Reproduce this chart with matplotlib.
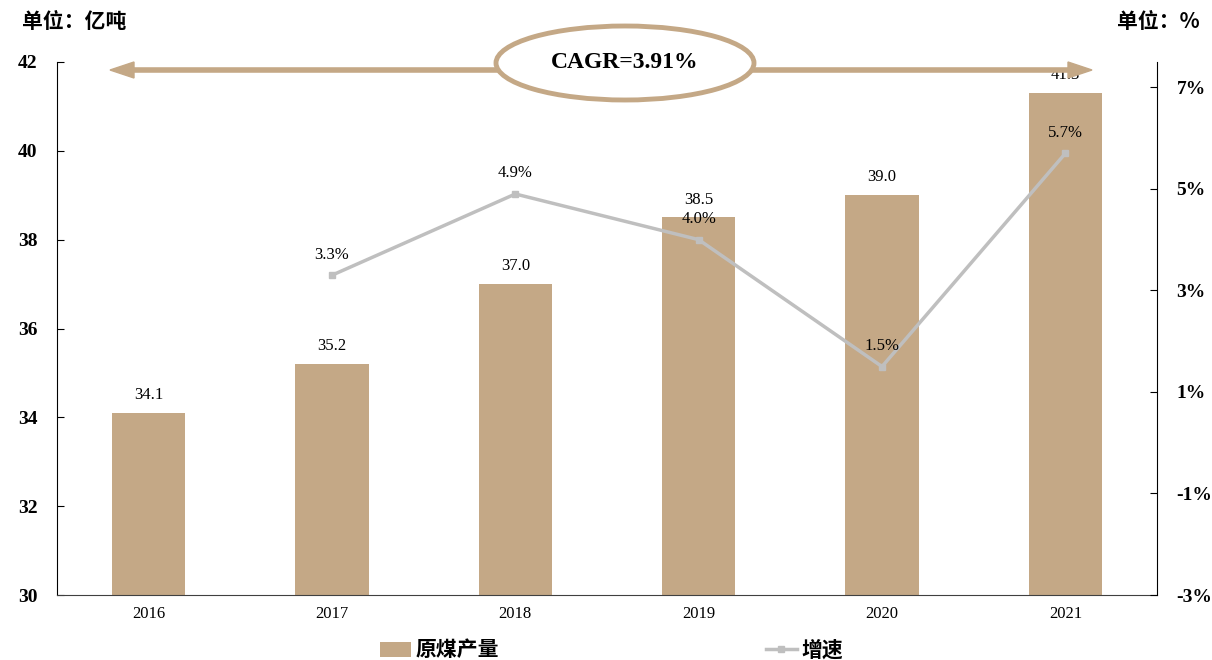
import numpy as np
import matplotlib.pyplot as plt
from matplotlib.patches import Ellipse, Patch, Polygon
from matplotlib.lines import Line2D

years = ['2016', '2017', '2018', '2019', '2020', '2021']
output = [34.1, 35.2, 37.0, 38.5, 39.0, 41.3]  # 原煤产量, 亿吨
growth_years = ['2017', '2018', '2019', '2020', '2021']
growth = [3.3, 4.9, 4.0, 1.5, 5.7]  # 增速, %
left_ticks = [30, 32, 34, 36, 38, 40, 42]
right_ticks = [-3, -1, 1, 3, 5, 7]

tan = '#C4A886'
grey = '#BFBFBF'
serif = 'Liberation Serif'
cjk = ['Noto Sans CJK SC', 'DejaVu Sans']

W, H = 1212, 660
fig = plt.figure(figsize=(W / 100, H / 100), dpi=100)
ax1 = fig.add_axes([57 / W, 65 / H, 1100 / W, 533 / H])
ax2 = ax1.twinx()

x = np.arange(len(years))
ax1.bar(x, output, width=0.4, color=tan, zorder=2)
for xi, v in zip(x, output):
    ax1.text(xi, v + 0.22, f'{v:.1f}', ha='center', va='bottom',
             fontsize=12, family=serif, zorder=3)

gx = [years.index(y) for y in growth_years]
ax2.plot(gx, growth, color=grey, lw=2.5, marker='s', ms=5, zorder=3)
for xi, v in zip(gx, growth):
    ax2.text(xi, v + 0.25, f'{v:.1f}%', ha='center', va='bottom',
             fontsize=12, family=serif, zorder=4)

ax1.set_xlim(-0.5, 5.5)
ax1.set_ylim(30, 42)
ax2.set_ylim(-3, 7.5)
ax1.set_xticks(x)
ax1.set_xticklabels(years, family=serif, fontsize=12)
ax1.set_yticks(left_ticks)
ax1.set_yticklabels([str(t) for t in left_ticks], family=serif,
                    fontsize=14, fontweight='bold')
ax2.set_yticks(right_ticks)
ax2.set_yticklabels([f'{t}%' for t in right_ticks], family=serif,
                    fontsize=14, fontweight='bold')

ax1.tick_params(axis='x', length=0, pad=8)
ax1.tick_params(axis='y', direction='in', length=5, pad=14)
ax2.tick_params(axis='y', direction='in', length=5, pad=14)
for ax in (ax1, ax2):
    ax.spines['top'].set_visible(False)
ax1.spines['right'].set_visible(False)
ax2.spines['left'].set_visible(False)
ax2.spines['bottom'].set_visible(False)
ax1.spines['bottom'].set_color('#404040')

# unit labels
fig.text(22 / W, 1 - 22 / H, '单位：亿吨', family=cjk, fontsize=15,
         fontweight='bold', va='center', ha='left')
fig.text(1200 / W, 1 - 22 / H, '单位：%', family=cjk, fontsize=15,
         fontweight='bold', va='center', ha='right')

# CAGR arrow (drawn in pixel coords) + ellipse
ay = H - 70
x0, x1 = 110, 1092
hl, hw = 24, 8
fig.lines.append(Line2D([x0 + hl - 2, x1 - hl + 2], [ay, ay], transform=None,
                        color=tan, lw=4, solid_capstyle='butt', zorder=5))
fig.patches.append(Polygon([[x0, ay], [x0 + hl, ay + hw], [x0 + hl, ay - hw]],
                           closed=True, transform=None, color=tan, zorder=5))
fig.patches.append(Polygon([[x1, ay], [x1 - hl, ay + hw], [x1 - hl, ay - hw]],
                           closed=True, transform=None, color=tan, zorder=5))
fig.patches.append(Ellipse((625 / W, 1 - 63 / H), 258 / W, 74 / H,
                           transform=fig.transFigure, facecolor='white',
                           edgecolor=tan, lw=3.5, zorder=6))
fig.text(625 / W, 1 - 63 / H, 'CAGR=3.91%', family=serif, fontsize=17,
         fontweight='bold', ha='center', va='center', zorder=7)

# legend
prop = {'family': cjk, 'size': 15, 'weight': 'bold'}
fig.legend([Patch(facecolor=tan)], ['原煤产量'], loc='center left',
           bbox_to_anchor=(361 / W, 1 - 650 / H), frameon=False, prop=prop,
           handlelength=1.5, handletextpad=0.2)
fig.legend([Line2D([], [], color=grey, lw=2.5, marker='s', ms=5)], ['增速'],
           loc='center left', bbox_to_anchor=(747 / W, 1 - 650 / H),
           frameon=False, prop=prop, handlelength=1.5, handletextpad=0.2)

fig.savefig('out.png', dpi=100)
